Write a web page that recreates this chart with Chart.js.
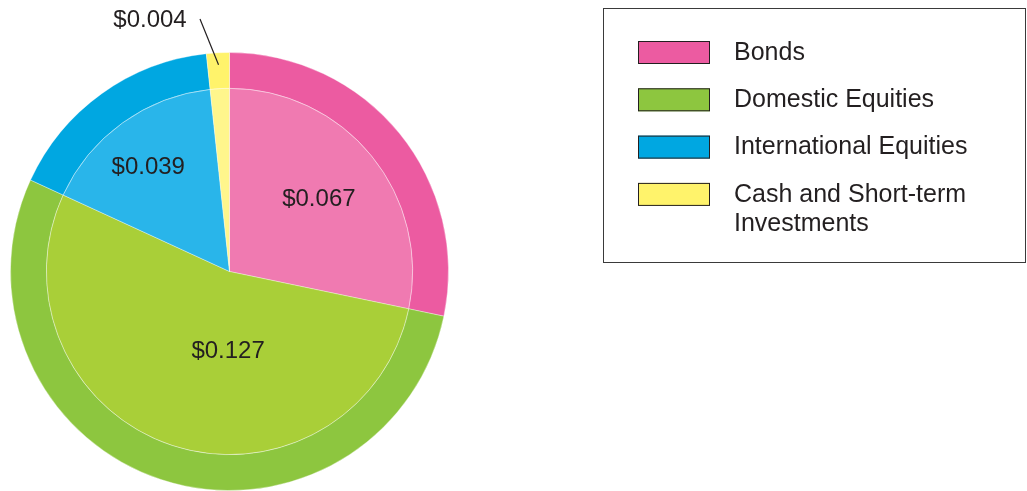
<!DOCTYPE html>
<html>
<head>
<meta charset="utf-8">
<script src="https://cdn.jsdelivr.net/npm/chart.js@4/dist/chart.umd.min.js"></script>
<style>
  html, body { margin: 0; padding: 0; background: #fff; overflow: hidden; }
  #wrap { position: absolute; left: 0; top: 0; width: 1027px; height: 491px; }
</style>
</head>
<body>
<div id="wrap"><canvas id="pieChart" width="1027" height="491"></canvas></div>
<script>
const categories = ['Bonds', 'Domestic Equities', 'International Equities', 'Cash and Short-term Investments'];
const legendLines = [['Bonds'], ['Domestic Equities'], ['International Equities'], ['Cash and Short-term', 'Investments']];
const values = [0.067, 0.127, 0.039, 0.004];
const valueLabels = ['$0.067', '$0.127', '$0.039', '$0.004'];

const outerColors = ['#ec5ba1', '#8dc63f', '#00a7e1', '#fff36b'];
const innerColors = ['#f07ab1', '#a9cf38', '#29b5ea', '#fff68c'];

const FONT = '"Liberation Sans", Arial, sans-serif';
const TEXT = '#231f20';

// label spots as [angle from top in degrees, distance from center in px]
const labelPolar = [[51, 115], [181, 80], [322, 132]];

const annotate = {
    id: 'annotate',
    afterDraw(chart) {
        const ctx = chart.ctx;
        const arcs = chart.getDatasetMeta(1).data;
        const cx = arcs[0].x, cy = arcs[0].y;
        ctx.save();
        ctx.fillStyle = TEXT;
        ctx.font = '24px ' + FONT;
        ctx.textAlign = 'center';
        ctx.textBaseline = 'middle';
        labelPolar.forEach((p, i) => {
            const a = p[0] * Math.PI / 180;
            ctx.fillText(valueLabels[i], cx + p[1] * Math.sin(a), cy - p[1] * Math.cos(a));
        });

        // small slice: label outside with leader line
        const small = chart.getDatasetMeta(0).data[3];
        const mid = (small.startAngle + small.endAngle) / 2;
        const ex = cx + (small.outerRadius - 12) * Math.cos(mid);
        const ey = cy + (small.outerRadius - 12) * Math.sin(mid);
        ctx.strokeStyle = '#231f20';
        ctx.lineWidth = 1.2;
        ctx.beginPath();
        ctx.moveTo(200, 19);
        ctx.lineTo(ex, ey);
        ctx.stroke();
        ctx.fillText(valueLabels[3], 150, 20);

        // legend box
        ctx.strokeStyle = '#3a3a3a';
        ctx.lineWidth = 1;
        ctx.strokeRect(603.5, 8.5, 422, 254);
        ctx.font = '25px ' + FONT;
        ctx.textAlign = 'left';
        categories.forEach((c, i) => {
            const y = 41 + i * 47.3;
            ctx.fillStyle = outerColors[i];
            ctx.fillRect(638, y, 72, 23);
            ctx.strokeStyle = '#231f20';
            ctx.strokeRect(638.5, y + 0.5, 71, 22);
            ctx.fillStyle = TEXT;
            legendLines[i].forEach((t, j) => {
                ctx.fillText(t, 734, y + 12 + j * 29);
            });
        });
        ctx.restore();
    }
};

new Chart(document.getElementById('pieChart'), {
    type: 'pie',
    data: {
        labels: categories,
        datasets: [
            {
                data: values,
                backgroundColor: outerColors,
                borderColor: 'rgba(255,255,255,0.35)',
                borderWidth: 1,
                weight: 36
            },
            {
                data: values,
                backgroundColor: innerColors,
                borderColor: 'rgba(255,255,255,0.35)',
                borderWidth: 1,
                weight: 184
            }
        ]
    },
    options: {
        responsive: false,
        animation: false,
        layout: { padding: { left: 10, right: 578, top: 52, bottom: 0 } },
        plugins: {
            legend: { display: false },
            tooltip: { enabled: false }
        }
    },
    plugins: [annotate]
});
</script>
</body>
</html>
